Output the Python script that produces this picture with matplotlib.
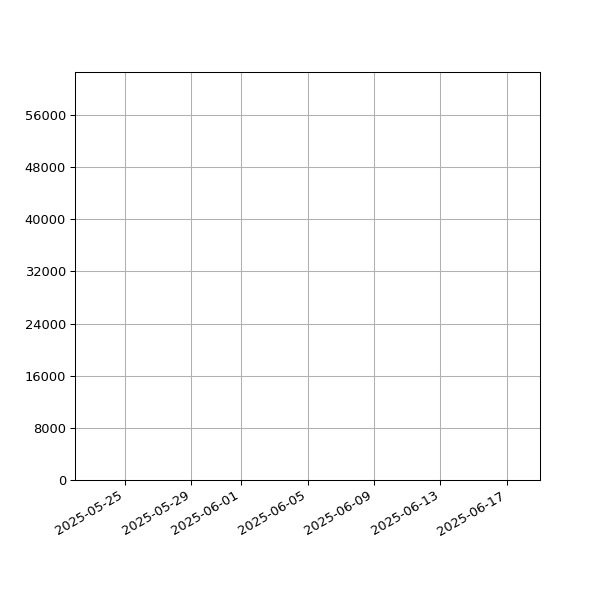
import datetime as dt

import matplotlib

matplotlib.use("Agg")
import matplotlib.dates as mdates
import matplotlib.pyplot as plt
import numpy as np

# Visible extent of the (empty) chart
date_range = [dt.date(2025, 5, 22), dt.date(2025, 6, 19)]
value_range = [0, 62600]
value_ticks = np.arange(0, 60000, 8000)

figure, axis = plt.subplots(figsize=(6.4, 6.4), dpi=93.75)
axis.set_xlim(mdates.date2num(date_range[0]), mdates.date2num(date_range[1]))
axis.xaxis_date()
axis.set_ylim(value_range)
axis.set_yticks(value_ticks)
axis.grid(True)
figure.autofmt_xdate()
figure.savefig("out.png", dpi=93.75)
plt.close(figure)
